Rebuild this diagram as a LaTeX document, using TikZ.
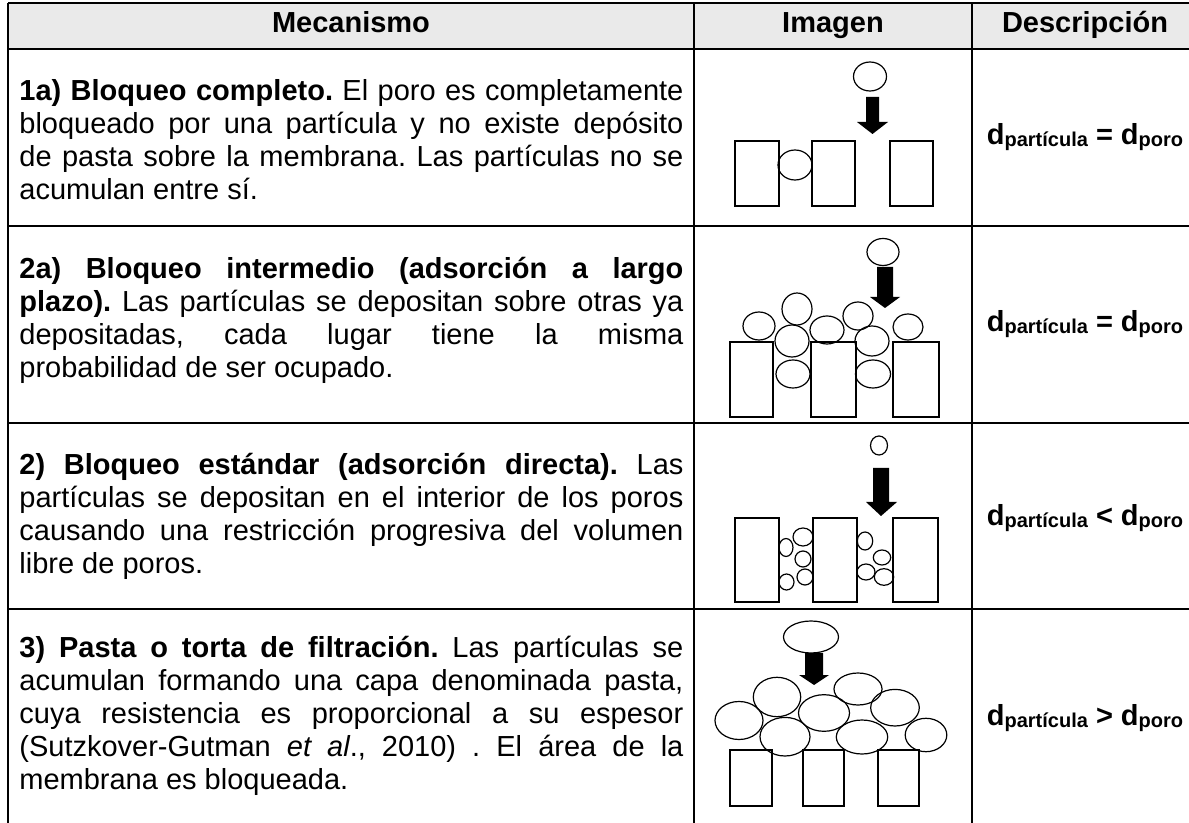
\documentclass[tikz,border=0pt]{standalone}
\usepackage{fontspec}
\setmainfont{Liberation Sans}
\definecolor{hdrgray}{RGB}{234,234,234}
\frenchspacing
\begin{document}
\begin{tikzpicture}[x=0.5pt,y=-0.5pt,
  partic/.style={draw=black, line width=0.6pt},
  membbox/.style={draw=black, line width=0.75pt},
  gridline/.style={draw=black, line width=1pt},
  blockarrow/.style={fill=black},
  hdr/.style={inner sep=0pt, anchor=base, font={\fontsize{14.5}{17}\selectfont\bfseries}},
  mech/.style={anchor=west, text width=332pt, align=justify, inner sep=0pt},
  desc/.style={inner sep=0pt, font={\fontsize{14.5}{17}\selectfont\bfseries}}]
\newcommand{\subsc}[1]{\raisebox{-1pt}{\fontsize{10}{11}\selectfont #1}}
\newcommand{\mechtext}[1]{\fontsize{14.5}{16.5}\selectfont\tolerance=10000\hbadness=10000\hyphenpenalty=10000\frenchspacing #1\par}
\useasboundingbox (0,0) rectangle (1189,823);
\clip (0,0) rectangle (1189,823);
% header band
\fill[hdrgray] (8,3) rectangle (1198,49);
% grid
\draw[gridline] (8,3) -- (1198,3);
\draw[gridline] (8,49) -- (1198,49);
\draw[gridline] (8,226) -- (1198,226);
\draw[gridline] (8,423) -- (1198,423);
\draw[gridline] (8,609) -- (1198,609);
\draw[gridline] (8,3) -- (8,830);
\draw[gridline] (694,3) -- (694,830);
\draw[gridline] (972,3) -- (972,830);
\draw[gridline] (1198,3) -- (1198,830);
% header
\node[hdr] (hmec) at (351,33) {Mecanismo};
\node[hdr] (himg) at (833,33) {Imagen};
\node[hdr] (hdes) at (1085,33) {Descripción};
% mechanism texts
\node[mech] (t1) at (19,140) {\mechtext{{\bfseries 1a) Bloqueo completo.} El poro es completamente\linebreak bloqueado por una partícula y no existe depósito\linebreak de pasta sobre la membrana. Las partículas no se\linebreak acumulan entre sí.}};
\node[mech] (t2) at (19,320) {\mechtext{{\bfseries 2a) Bloqueo intermedio (adsorción a largo\linebreak plazo).} Las partículas se depositan sobre otras ya\linebreak depositadas, cada lugar tiene la misma\linebreak probabilidad de ser ocupado.}};
\node[mech] (t3) at (19,516) {\mechtext{{\bfseries 2) Bloqueo estándar (adsorción directa).} Las\linebreak partículas se depositan en el interior de los poros\linebreak causando una restricción progresiva del volumen\linebreak libre de poros.}};
\node[mech] (t4) at (19,716) {\mechtext{{\bfseries 3) Pasta o torta de filtración.} Las partículas se\linebreak acumulan formando una capa denominada pasta,\linebreak cuya resistencia es proporcional a su espesor\linebreak (Sutzkover-Gutman \textit{et al}., 2010) . El área de la\linebreak membrana es bloqueada.}};
% descriptions
\node[desc] (d1) at (1085,137) {d\subsc{partícula} = d\subsc{poro}};
\node[desc] (d2) at (1085,324) {d\subsc{partícula} = d\subsc{poro}};
\node[desc] (d3) at (1085,518) {d\subsc{partícula} < d\subsc{poro}};
\node[desc] (d4) at (1085,718) {d\subsc{partícula} > d\subsc{poro}};
% ---- image 1a: complete blocking
\draw[partic] (870,76.5) ellipse [x radius=16.5, y radius=14.5];
\fill[blockarrow] (866,97) -- (879,97) -- (879,122) -- (888,122) -- (872.5,134) -- (857,122) -- (866,122) -- cycle;
\draw[membbox] (735,141) rectangle (779,206);
\draw[membbox] (812,141) rectangle (855,206);
\draw[membbox] (890,141) rectangle (933,206);
\draw[partic] (795,165) ellipse [x radius=17, y radius=15];
% ---- image 2a: intermediate blocking
\draw[partic] (883,252) ellipse [x radius=16, y radius=13.5];
\fill[blockarrow] (877,267) -- (893,267) -- (893,297) -- (900,297) -- (885,308) -- (870,297) -- (877,297) -- cycle;
\draw[membbox] (730,342) rectangle (773,417);
\draw[membbox] (811,342) rectangle (856,417);
\draw[membbox] (893,342) rectangle (939,417);
\draw[partic] (759,326) ellipse [x radius=16, y radius=14];
\draw[partic] (797,309) ellipse [x radius=15, y radius=16];
\draw[partic] (792,341) ellipse [x radius=17, y radius=16];
\draw[partic] (793,374) ellipse [x radius=17, y radius=14];
\draw[partic] (827,330) ellipse [x radius=17, y radius=14];
\draw[partic] (858,316) ellipse [x radius=15, y radius=14];
\draw[partic] (872,341) ellipse [x radius=17, y radius=15];
\draw[partic] (873,374) ellipse [x radius=17.5, y radius=14];
\draw[partic] (908,327) ellipse [x radius=15, y radius=13];
% ---- image 2: standard blocking
\draw[partic] (879,445.5) ellipse [x radius=8.5, y radius=9.5];
\fill[blockarrow] (873,468) -- (889,468) -- (889,502) -- (897,502) -- (881,516) -- (866,502) -- (873,502) -- cycle;
\draw[membbox] (735,518) rectangle (779,602);
\draw[membbox] (813,518) rectangle (857,602);
\draw[membbox] (893,518) rectangle (938,602);
\draw[partic] (803,537) ellipse [x radius=10, y radius=9];
\draw[partic] (786,547.5) ellipse [x radius=7, y radius=9];
\draw[partic] (803,559) ellipse [x radius=8, y radius=8];
\draw[partic] (805,577) ellipse [x radius=8, y radius=8];
\draw[partic] (786.5,582) ellipse [x radius=7.5, y radius=8];
\draw[partic] (865,541) ellipse [x radius=7.7, y radius=9];
\draw[partic] (882,557.5) ellipse [x radius=8.7, y radius=7.5];
\draw[partic] (866,572) ellipse [x radius=9, y radius=8];
\draw[partic] (884,577) ellipse [x radius=9.7, y radius=8.3];
% ---- image 3: cake filtration
\draw[partic] (811,637) ellipse [x radius=27.5, y radius=16];
\fill[blockarrow] (805,653) -- (823,653) -- (823,675) -- (829,675) -- (814,685) -- (799,675) -- (805,675) -- cycle;
\draw[partic] (739,720.5) ellipse [x radius=24, y radius=19];
\draw[partic] (777,697) ellipse [x radius=23.7, y radius=19.7];
\draw[partic] (785,736.7) ellipse [x radius=25, y radius=19.3];
\draw[partic] (824,713) ellipse [x radius=25.5, y radius=18.3];
\draw[partic] (858,689) ellipse [x radius=24, y radius=16];
\draw[partic] (862,737) ellipse [x radius=25.7, y radius=17];
\draw[partic] (895,707.7) ellipse [x radius=24.3, y radius=18.3];
\draw[partic] (926,735) ellipse [x radius=20.8, y radius=16.7];
\draw[membbox] (730,750) rectangle (772,806);
\draw[membbox] (803,750) rectangle (844,806);
\draw[membbox] (878,750) rectangle (919,806);
\end{tikzpicture}
\end{document}
